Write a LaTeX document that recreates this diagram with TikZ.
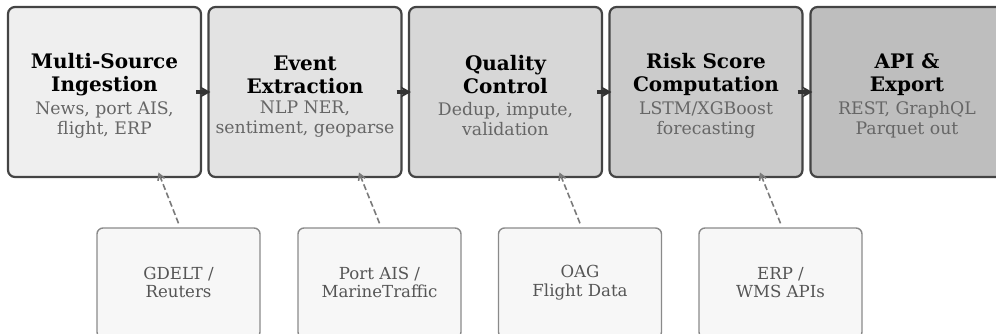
\documentclass[tikz,border=0pt]{standalone}
\usepackage{fontspec}
\setmainfont{DejaVu Serif}
\usetikzlibrary{arrows.meta}
\definecolor{bA}{HTML}{EFEFEF}
\definecolor{bB}{HTML}{E3E3E3}
\definecolor{bC}{HTML}{D7D7D7}
\definecolor{bD}{HTML}{CBCBCB}
\definecolor{bE}{HTML}{BEBEBE}
\definecolor{edgeD}{HTML}{444444}
\definecolor{subG}{HTML}{666666}
\definecolor{srcF}{HTML}{F7F7F7}
\definecolor{srcE}{HTML}{8A8A8A}
\definecolor{srcT}{HTML}{555555}
\definecolor{dashC}{HTML}{7A7A7A}
\definecolor{flowC}{HTML}{333333}
\tikzset{
  stagebox/.style={draw=edgeD, line width=2.2pt, rounded corners=7pt, minimum width=193pt, minimum height=170pt, inner sep=0pt},
  srcbox/.style={draw=srcE, line width=1.4pt, rounded corners=6pt, minimum width=163pt, minimum height=110pt, fill=srcF, inner sep=0pt},
  flow/.style={draw=flowC, line width=3.5pt, -{Stealth[length=10pt,width=11pt]}},
  feed/.style={draw=dashC, line width=1.6pt, dash pattern=on 6pt off 3pt, -{Straight Barb[length=6pt,width=7pt]}},
  ttl/.style={font=\fontsize{20}{23}\selectfont\bfseries, align=center},
  sub/.style={font=\fontsize{17.3}{20}\selectfont, text=subG, align=center},
  srct/.style={font=\fontsize{16.6}{18.5}\selectfont, text=srcT, align=center}
}
\begin{document}
\begin{tikzpicture}[x=1pt,y=-1pt]
\useasboundingbox (0,0) rectangle (996,333);
\begin{scope}
\clip (0,0) rectangle (996,333);
% stages
\node[stagebox, fill=bA] (s1) at (104.5,92) {};
\node[stagebox, fill=bB] (s2) at (305,92) {};
\node[stagebox, fill=bC] (s3) at (505.5,92) {};
\node[stagebox, fill=bD] (s4) at (706,92) {};
\node[stagebox, fill=bE] (s5) at (907,92) {};
% texts
\node[ttl] (t1) at (104.5,74.5) {Multi-Source\\Ingestion};
\node[sub] (u1) at (104.5,119.5) {News, port AIS,\\flight, ERP};
\node[ttl] (t2) at (305,74.5) {Event\\Extraction};
\node[sub] (u2) at (305,119.5) {NLP NER,\\sentiment, geoparse};
\node[ttl] (t3) at (505.5,74.5) {Quality\\Control};
\node[sub] (u3) at (505.5,119.5) {Dedup, impute,\\validation};
\node[ttl] (t4) at (706,74.5) {Risk Score\\Computation};
\node[sub] (u4) at (706,119.5) {LSTM/XGBoost\\forecasting};
\node[ttl] (t5) at (907,74.5) {API \&\\Export};
\node[sub] (u5) at (907,119.5) {REST, GraphQL\\Parquet out};
% flow arrows
\draw[flow] ([xshift=-6pt]s1.east) -- ([xshift=3pt]s2.west);
\draw[flow] ([xshift=-6pt]s2.east) -- ([xshift=3pt]s3.west);
\draw[flow] ([xshift=-6pt]s3.east) -- ([xshift=3pt]s4.west);
\draw[flow] ([xshift=-6pt]s4.east) -- ([xshift=3pt]s5.west);
% sources
\node[srcbox] (r1) at (178.5,283) {};
\node[srcbox] (r2) at (379.5,283) {};
\node[srcbox] (r3) at (580,283) {};
\node[srcbox] (r4) at (780.5,283) {};
\node[srct] (q1) at (178.5,282.5) {GDELT /\\Reuters};
\node[srct] (q2) at (379.5,282.5) {Port AIS /\\MarineTraffic};
\node[srct] (q3) at (580,282.5) {OAG\\Flight Data};
\node[srct] (q4) at (780.5,282.5) {ERP /\\WMS APIs};
% feed arrows
\coordinate (f1) at (158.5,172.5);
\coordinate (f2) at (359,172.5);
\coordinate (f3) at (559.5,172.5);
\coordinate (f4) at (760,172.5);
\draw[feed] ([yshift=4pt]r1.north) -- (f1);
\draw[feed] ([yshift=4pt]r2.north) -- (f2);
\draw[feed] ([yshift=4pt]r3.north) -- (f3);
\draw[feed] ([yshift=4pt]r4.north) -- (f4);
\end{scope}
\end{tikzpicture}
\end{document}
